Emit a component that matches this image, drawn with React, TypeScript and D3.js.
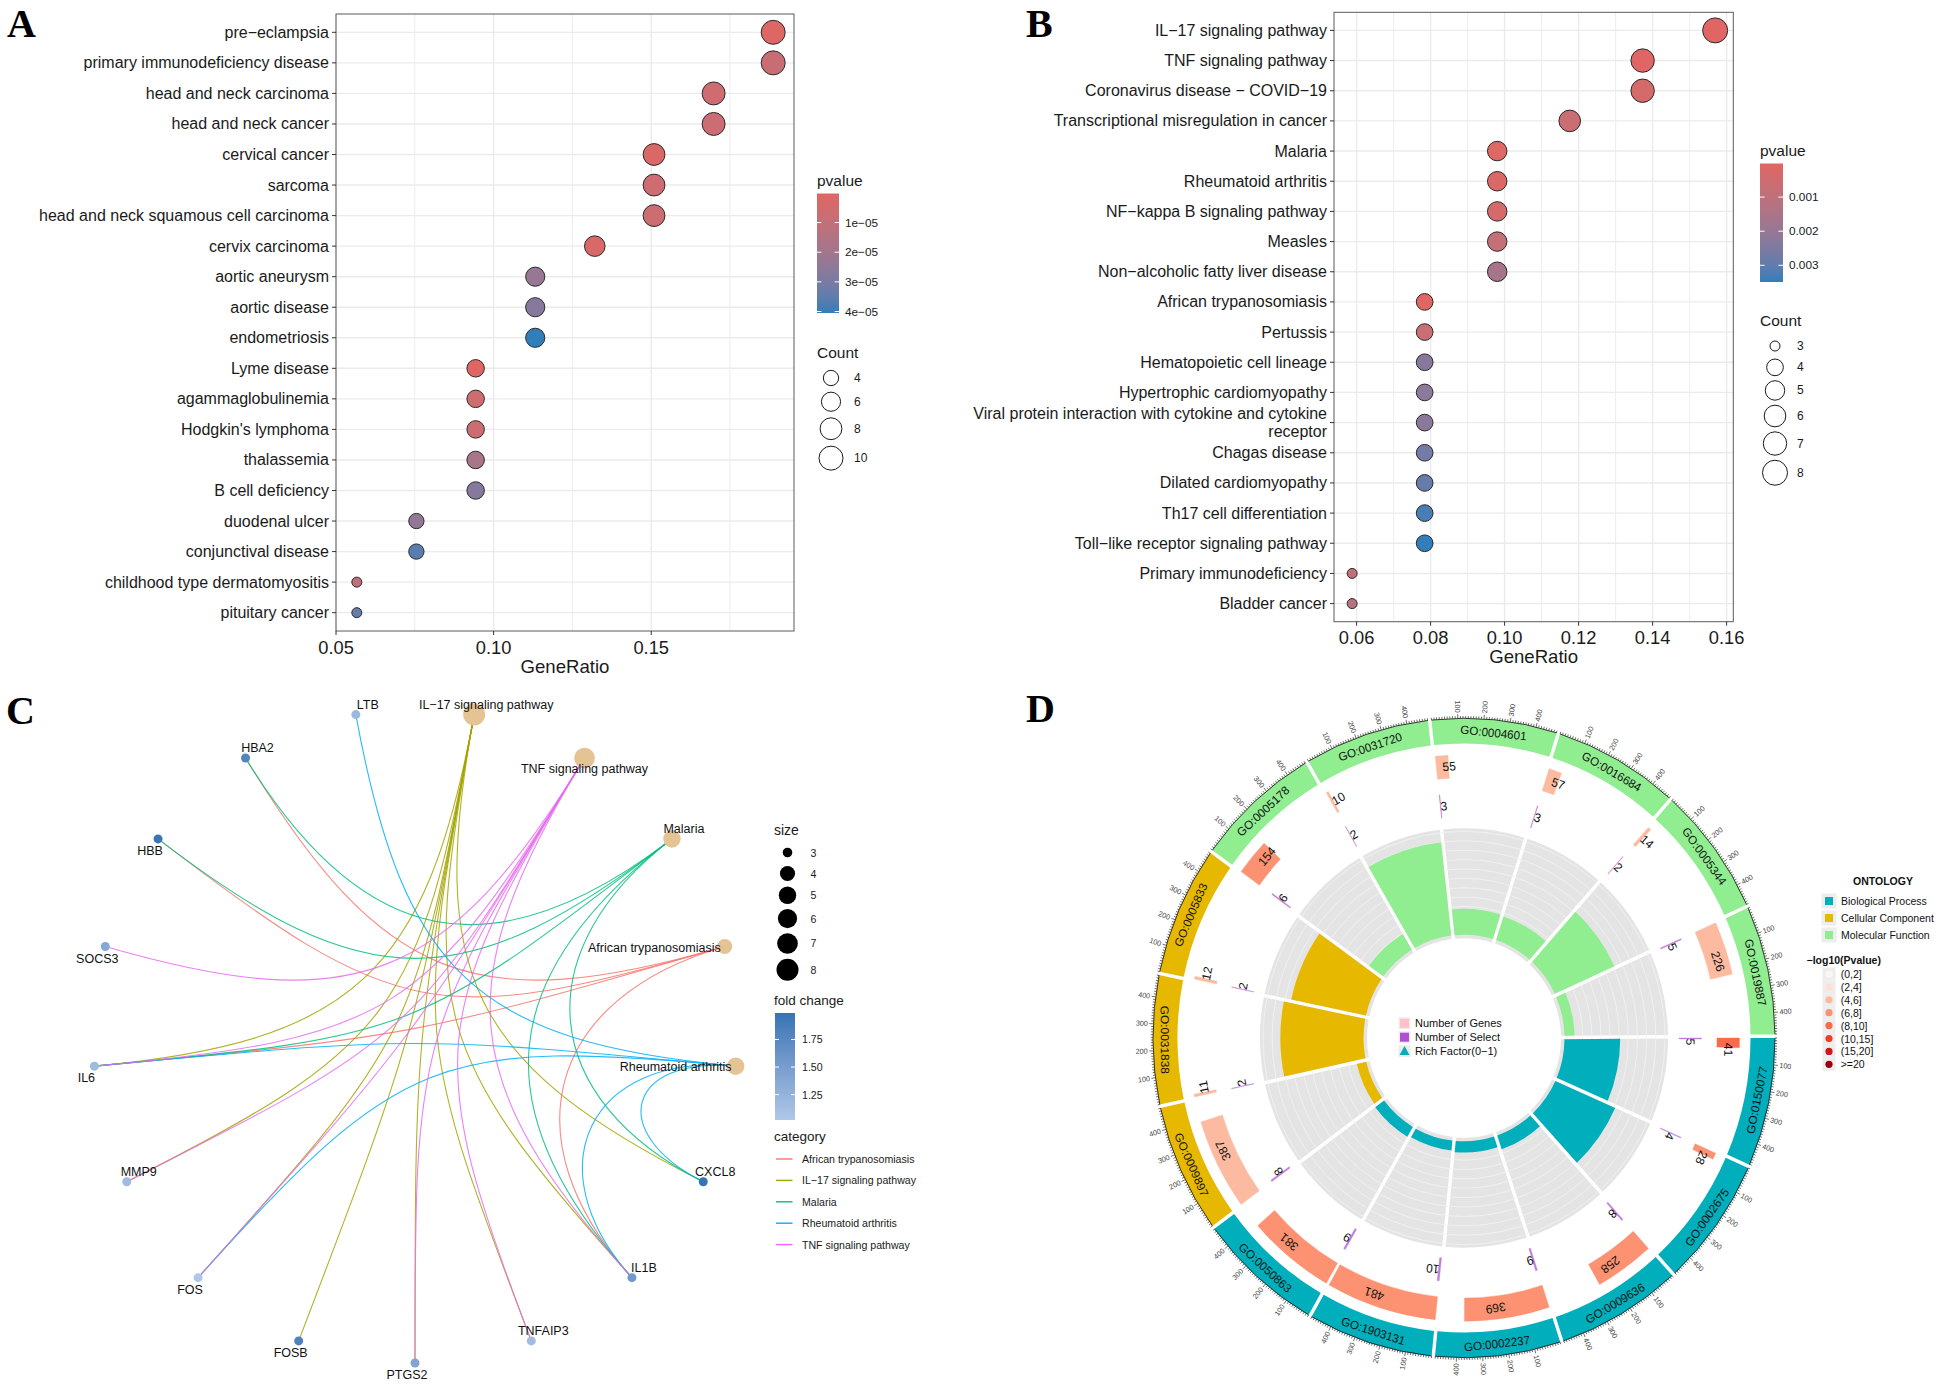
import * as d3 from "d3";

const FONT = "'Liberation Sans', Arial, sans-serif";
const SERIF = "'Liberation Serif', 'Times New Roman', serif";

// ---------- Panel A: disease enrichment dot plot
const doTerms = [
  "pre\u2212eclampsia",
  "primary immunodeficiency disease",
  "head and neck carcinoma",
  "head and neck cancer",
  "cervical cancer",
  "sarcoma",
  "head and neck squamous cell carcinoma",
  "cervix carcinoma",
  "aortic aneurysm",
  "aortic disease",
  "endometriosis",
  "Lyme disease",
  "agammaglobulinemia",
  "Hodgkin's lymphoma",
  "thalassemia",
  "B cell deficiency",
  "duodenal ulcer",
  "conjunctival disease",
  "childhood type dermatomyositis",
  "pituitary cancer",
];
const doRatio = [
  0.1887, 0.1887, 0.1698, 0.1698, 0.1509, 0.1509, 0.1509, 0.1321, 0.1132, 0.1132,
  0.1132, 0.0943, 0.0943, 0.0943, 0.0943, 0.0943, 0.0755, 0.0755, 0.0566, 0.0566,
];
const doCount = [10, 10, 9, 9, 8, 8, 8, 7, 6, 6, 6, 5, 5, 5, 5, 5, 4, 4, 3, 3];
const doPvalue = [
  1.2e-6, 8e-6, 6.5e-6, 7.5e-6, 2.2e-6, 6.5e-6, 7e-6, 2.6e-6, 2.3e-5, 2.7e-5,
  4.05e-5, 2e-7, 6e-6, 7.5e-6, 1.8e-5, 2.7e-5, 2.4e-5, 3.6e-5, 1.1e-5, 3.4e-5,
];
const doXTicks = [0.05, 0.1, 0.15];
const doXMinor = [0.075, 0.125, 0.175];
const doXLabels = ["0.05", "0.10", "0.15"];
const doPTicks = [1e-5, 2e-5, 3e-5, 4e-5];
const doPLabels = ["1e\u221205", "2e\u221205", "3e\u221205", "4e\u221205"];
const doCountKeys = [4, 6, 8, 10];

// ---------- Panel B: KEGG dot plot
const keggTerms = [
  "IL\u221217 signaling pathway",
  "TNF signaling pathway",
  "Coronavirus disease \u2212 COVID\u221219",
  "Transcriptional misregulation in cancer",
  "Malaria",
  "Rheumatoid arthritis",
  "NF\u2212kappa B signaling pathway",
  "Measles",
  "Non\u2212alcoholic fatty liver disease",
  "African trypanosomiasis",
  "Pertussis",
  "Hematopoietic cell lineage",
  "Hypertrophic cardiomyopathy",
  "Viral protein interaction with cytokine and cytokine\nreceptor",
  "Chagas disease",
  "Dilated cardiomyopathy",
  "Th17 cell differentiation",
  "Toll\u2212like receptor signaling pathway",
  "Primary immunodeficiency",
  "Bladder cancer",
];
const keggRatio = [
  0.1569, 0.1373, 0.1373, 0.1176, 0.098, 0.098, 0.098, 0.098, 0.098, 0.0784,
  0.0784, 0.0784, 0.0784, 0.0784, 0.0784, 0.0784, 0.0784, 0.0784, 0.0588, 0.0588,
];
const keggCount = [8, 7, 7, 6, 5, 5, 5, 5, 5, 4, 4, 4, 4, 4, 4, 4, 4, 4, 3, 3];
const keggPvalue = [
  1.5e-5, 5e-5, 3.5e-4, 7e-4, 6e-5, 1.5e-4, 3e-4, 8e-4, 1.6e-3, 2e-5,
  7e-4, 2.3e-3, 2.2e-3, 2.25e-3, 2.7e-3, 2.9e-3, 3.3e-3, 3.49e-3, 9e-4, 1.2e-3,
];
const keggXTicks = [0.06, 0.08, 0.1, 0.12, 0.14, 0.16];
const keggXMinor = [0.07, 0.09, 0.11, 0.13, 0.15];
const keggXLabels = ["0.06", "0.08", "0.10", "0.12", "0.14", "0.16"];
const keggPTicks = [0.001, 0.002, 0.003];
const keggPLabels = ["0.001", "0.002", "0.003"];
const keggCountKeys = [3, 4, 5, 6, 7, 8];

// ---------- Panel C: gene-concept network
const cnetOrder = [
  "PTGS2", "TNFAIP3", "IL1B", "CXCL8",
  "Rheumatoid arthritis", "African trypanosomiasis", "Malaria",
  "TNF signaling pathway", "IL\u221217 signaling pathway",
  "LTB", "HBA2", "HBB", "SOCS3", "IL6", "MMP9", "FOS", "FOSB",
];
const cnetCategories = [
  "African trypanosomiasis",
  "IL\u221217 signaling pathway",
  "Malaria",
  "Rheumatoid arthritis",
  "TNF signaling pathway",
];
const cnetCategorySize = [4, 8, 5, 5, 7];
const cnetCategoryColors = ["#F8766D", "#A3A500", "#00BF7D", "#00B0F6", "#E76BF3"];
const cnetCategoryGenes = [
  ["HBA2", "HBB", "IL6", "IL1B"],
  ["IL6", "MMP9", "FOS", "FOSB", "PTGS2", "TNFAIP3", "IL1B", "CXCL8"],
  ["HBA2", "HBB", "IL6", "IL1B", "CXCL8"],
  ["LTB", "IL6", "FOS", "IL1B", "CXCL8"],
  ["SOCS3", "IL6", "MMP9", "FOS", "PTGS2", "TNFAIP3", "IL1B"],
];
const cnetGenes = ["LTB", "HBA2", "HBB", "SOCS3", "IL6", "MMP9", "FOS", "FOSB", "PTGS2", "TNFAIP3", "IL1B", "CXCL8"];
const cnetFoldChange = [1.2, 1.8, 1.97, 1.38, 1.18, 1.16, 1.02, 1.82, 1.42, 1.15, 1.55, 1.99];
const cnetLabelSide: Record<string, string> = {
  LTB: "ne", HBA2: "ne", HBB: "sw", SOCS3: "sw", IL6: "sw", MMP9: "ne", FOS: "sw",
  FOSB: "sw", PTGS2: "sw", TNFAIP3: "ne", IL1B: "ne", CXCL8: "ne",
  "IL\u221217 signaling pathway": "ne", "TNF signaling pathway": "s", Malaria: "ne",
  "African trypanosomiasis": "w", "Rheumatoid arthritis": "w",
};
const cnetSizeKeys = [3, 4, 5, 6, 7, 8];
const cnetFoldTicks = [1.25, 1.5, 1.75];
const cnetFoldLabels = ["1.25", "1.50", "1.75"];

// ---------- Panel D: GO circle
const goIds = [
  "GO:0150077", "GO:0002675", "GO:0009636", "GO:0002237", "GO:1903131", "GO:0050863",
  "GO:0009897", "GO:0031838", "GO:0005833",
  "GO:0005178", "GO:0031720", "GO:0004601", "GO:0016684", "GO:0005344", "GO:0019887",
];
const goOntology = ["BP", "BP", "BP", "BP", "BP", "BP", "CC", "CC", "CC", "MF", "MF", "MF", "MF", "MF", "MF"];
const goGenes = [41, 28, 258, 369, 481, 381, 387, 11, 12, 154, 10, 55, 57, 14, 226];
const goSelect = [5, 4, 8, 9, 10, 9, 8, 2, 2, 6, 2, 3, 3, 2, 5];
const goRich = [0.122, 0.143, 0.031, 0.024, 0.021, 0.024, 0.021, 0.182, 0.167, 0.039, 0.2, 0.055, 0.053, 0.143, 0.022];
const goLogP = [8.6, 7.3, 7.1, 6.8, 6.9, 6.6, 5.4, 4.6, 4.8, 6.5, 4.9, 4.5, 4.4, 4.7, 4.3];
const goOntologyNames = ["Biological Process", "Cellular Component", "Molecular Function"];
const goOntologyKeys = ["BP", "CC", "MF"];
const goOntologyColors = ["#00AFBB", "#E7B800", "#90EE90"];
const goPBins = ["(0,2]", "(2,4]", "(4,6]", "(6,8]", "(8,10]", "(10,15]", "(15,20]", ">=20"];
const goPBreaks = [2, 4, 6, 8, 10, 15, 20];
const goAxisTicks = [100, 200, 300, 400];

type DotProps = {
  terms: string[];
  ratio: number[];
  count: number[];
  pvalue: number[];
  left: number;
  right: number;
  top: number;
  bottom: number;
  xTicks: number[];
  xMinor: number[];
  xLabels: string[];
  pTicks: number[];
  pLabels: string[];
  countKeys: number[];
  rRange: [number, number];
  tickLabelY: number;
  xTitleY: number;
  legendX: number;
  barW: number;
  pTitleY: number;
  barTop: number;
  barBottom: number;
  countTitleY: number;
  countFirstY: number;
  keyCx: number;
  keyLabelX: number;
  keyPad: number;
  keyMin: number;
  gradId: string;
};

function DotPlot(p: DotProps) {
  const [rmin, rmax] = d3.extent(p.ratio) as [number, number];
  const pad = (rmax - rmin) * 0.05;
  const x = d3.scaleLinear().domain([rmin - pad, rmax + pad]).range([p.left, p.right]);
  const y = d3.scalePoint<string>().domain(p.terms).range([p.top, p.bottom]).padding(0.6);
  const pExt = d3.extent(p.pvalue) as [number, number];
  const color = d3
    .scaleLinear<string>()
    .domain(pExt)
    .range(["#e06663", "#327eba"])
    .interpolate(d3.interpolateLab);
  const cExt = d3.extent(p.count) as [number, number];
  const norm = d3.scaleLinear().domain(cExt).range([0, 1]).clamp(true);
  const rad = (c: number) => p.rRange[0] + (p.rRange[1] - p.rRange[0]) * Math.sqrt(norm(c));
  const yBar = d3.scaleLinear().domain(pExt).range([p.barTop, p.barBottom]);

  const keyH = p.countKeys.map((c) => Math.max(2 * rad(c) + p.keyPad, p.keyMin));
  const keyY: number[] = [];
  p.countKeys.forEach((_, i) => {
    keyY.push(i === 0 ? p.countFirstY : keyY[i - 1] + (keyH[i - 1] + keyH[i]) / 2);
  });

  const stops = d3.range(0, 1.0001, 0.05);

  return (
    <g>
      <defs>
        <linearGradient id={p.gradId} x1="0" y1="0" x2="0" y2="1">
          {stops.map((t) => (
            <stop key={t} offset={t} stopColor={color(pExt[0] + t * (pExt[1] - pExt[0]))} />
          ))}
        </linearGradient>
      </defs>
      <rect x={p.left} y={p.top} width={p.right - p.left} height={p.bottom - p.top} fill="#fff" />
      {p.xMinor.map((v) => (
        <line key={"mn" + v} x1={x(v)} x2={x(v)} y1={p.top} y2={p.bottom} stroke="#EFEFEF" strokeWidth={1.1} />
      ))}
      {p.xTicks.map((v) => (
        <line key={"mj" + v} x1={x(v)} x2={x(v)} y1={p.top} y2={p.bottom} stroke="#EBEBEB" strokeWidth={1.4} />
      ))}
      {p.terms.map((t) => (
        <line key={"h" + t} x1={p.left} x2={p.right} y1={y(t)} y2={y(t)} stroke="#EBEBEB" strokeWidth={1.4} />
      ))}
      {p.terms.map((t, i) => (
        <circle
          key={"pt" + t}
          cx={x(p.ratio[i])}
          cy={y(t)}
          r={rad(p.count[i])}
          fill={color(p.pvalue[i])}
          stroke="#2a2a2a"
          strokeWidth={1}
        />
      ))}
      <rect
        x={p.left}
        y={p.top}
        width={p.right - p.left}
        height={p.bottom - p.top}
        fill="none"
        stroke="#5a5a5a"
        strokeWidth={1}
      />
      {p.terms.map((t) => {
        const lines = t.split("\n");
        const yy = y(t) ?? 0;
        return (
          <g key={"yl" + t}>
            <line x1={p.left - 4} x2={p.left} y1={yy} y2={yy} stroke="#333" strokeWidth={1} />
            {lines.map((ln, j) => (
              <text
                key={j}
                x={p.left - 7}
                y={yy + (j - (lines.length - 1) / 2) * 17.5}
                textAnchor="end"
                dominantBaseline="central"
                fontSize={16}
                fill="#1a1a1a"
              >
                {ln}
              </text>
            ))}
          </g>
        );
      })}
      {p.xTicks.map((v, i) => (
        <g key={"xt" + v}>
          <line x1={x(v)} x2={x(v)} y1={p.bottom} y2={p.bottom + 4} stroke="#333" strokeWidth={1} />
          <text x={x(v)} y={p.tickLabelY} textAnchor="middle" dominantBaseline="central" fontSize={18.3} fill="#1a1a1a">
            {p.xLabels[i]}
          </text>
        </g>
      ))}
      <text
        x={(p.left + p.right) / 2}
        y={p.xTitleY}
        textAnchor="middle"
        dominantBaseline="central"
        fontSize={18.6}
        fill="#1a1a1a"
      >
        GeneRatio
      </text>

      {/* pvalue legend */}
      <text x={p.legendX} y={p.pTitleY} dominantBaseline="central" fontSize={15.5} fill="#1a1a1a">
        pvalue
      </text>
      <rect x={p.legendX} y={p.barTop} width={p.barW} height={p.barBottom - p.barTop} fill={`url(#${p.gradId})`} />
      {p.pTicks.map((v, i) => (
        <g key={"pl" + v}>
          <line x1={p.legendX} x2={p.legendX + p.barW / 5} y1={yBar(v)} y2={yBar(v)} stroke="#fff" strokeWidth={1} />
          <line
            x1={p.legendX + p.barW}
            x2={p.legendX + (p.barW * 4) / 5}
            y1={yBar(v)}
            y2={yBar(v)}
            stroke="#fff"
            strokeWidth={1}
          />
          <text
            x={p.legendX + p.barW + 6}
            y={yBar(v)}
            dominantBaseline="central"
            fontSize={11.8}
            fill="#1a1a1a"
          >
            {p.pLabels[i]}
          </text>
        </g>
      ))}

      {/* Count legend */}
      <text x={p.legendX} y={p.countTitleY} dominantBaseline="central" fontSize={15.5} fill="#1a1a1a">
        Count
      </text>
      {p.countKeys.map((c, i) => (
        <g key={"ck" + c}>
          <circle cx={p.keyCx} cy={keyY[i]} r={rad(c)} fill="none" stroke="#1a1a1a" strokeWidth={1} />
          <text x={p.keyLabelX} y={keyY[i]} dominantBaseline="central" fontSize={12} fill="#1a1a1a">
            {c}
          </text>
        </g>
      ))}
    </g>
  );
}

function CnetPlot() {
  const cx = 415;
  const cy = 1036;
  const rx = 322;
  const ry = 327;
  const n = cnetOrder.length;
  const pos = new Map<string, [number, number]>();
  const angDeg = new Map<string, number>();
  cnetOrder.forEach((name, k) => {
    const a = -Math.PI / 2 + (k * 2 * Math.PI) / n;
    pos.set(name, [cx + rx * Math.cos(a), cy - ry * Math.sin(a)]);
    angDeg.set(name, (a * 180) / Math.PI);
  });

  const sizeNorm = d3.scaleLinear().domain([3, 8]).range([0, 1]).clamp(true);
  const nodeR = (s: number) => 4.8 + 6.2 * Math.sqrt(sizeNorm(s));
  const foldExt = d3.extent(cnetFoldChange) as [number, number];
  const foldColor = d3
    .scaleLinear<string>()
    .domain(foldExt)
    .range(["#AFC8E8", "#3674B5"])
    .interpolate(d3.interpolateLab);

  // edges: cubic curves whose control points are pulled towards the circle centre,
  // more strongly for nodes that lie further apart on the circle
  const edges: { d: string; color: string; key: string }[] = [];
  cnetCategories.forEach((cat, ci) => {
    const [x0, y0] = pos.get(cat)!;
    cnetCategoryGenes[ci].forEach((g) => {
      const [x1, y1] = pos.get(g)!;
      let dA = Math.abs(angDeg.get(cat)! - angDeg.get(g)!) % 360;
      if (dA > 180) dA = 360 - dA;
      const s = Math.min(1, 0.22 + dA / 180);
      const q = 1 - s;
      const path = d3.path();
      path.moveTo(x0, y0);
      path.bezierCurveTo(
        cx + q * (x0 - cx),
        cy + q * (y0 - cy),
        cx + q * (x1 - cx),
        cy + q * (y1 - cy),
        x1,
        y1
      );
      edges.push({ d: path.toString(), color: cnetCategoryColors[ci], key: cat + g });
    });
  });

  const labelOf = (name: string) => {
    const [x, y] = pos.get(name)!;
    const side = cnetLabelSide[name];
    if (side === "ne") return { x: x + 12, y: y - 10, anchor: "middle" };
    if (side === "sw") return { x: x - 8, y: y + 12, anchor: "middle" };
    if (side === "s") return { x: x, y: y + 11.5, anchor: "middle" };
    return { x: x - 4, y: y + 1, anchor: "end" };
  };

  // legends
  const lx = 774;
  const sizeKeyH = cnetSizeKeys.map((s) => Math.max(2 * nodeR(s) + 5, 21));
  const sizeKeyY: number[] = [];
  cnetSizeKeys.forEach((_, i) => {
    sizeKeyY.push(i === 0 ? 852.5 : sizeKeyY[i - 1] + (sizeKeyH[i - 1] + sizeKeyH[i]) / 2);
  });
  const barTop = 1013;
  const barBottom = 1120;
  const yFold = d3.scaleLinear().domain(foldExt).range([barBottom, barTop]);
  const stops = d3.range(0, 1.0001, 0.05);

  return (
    <g>
      <defs>
        <linearGradient id="foldGrad" x1="0" y1="1" x2="0" y2="0">
          {stops.map((t) => (
            <stop key={t} offset={t} stopColor={foldColor(foldExt[0] + t * (foldExt[1] - foldExt[0]))} />
          ))}
        </linearGradient>
      </defs>
      {edges.map((e) => (
        <path key={e.key} d={e.d} fill="none" stroke={e.color} strokeOpacity={0.85} strokeWidth={1.1} />
      ))}
      {cnetCategories.map((cat, i) => {
        const [x, y] = pos.get(cat)!;
        return <circle key={cat} cx={x} cy={y} r={nodeR(cnetCategorySize[i])} fill="#E5C494" />;
      })}
      {cnetGenes.map((g, i) => {
        const [x, y] = pos.get(g)!;
        return <circle key={g} cx={x} cy={y} r={4.5} fill={foldColor(cnetFoldChange[i])} />;
      })}
      {cnetOrder.map((name) => {
        const l = labelOf(name);
        return (
          <text
            key={"lab" + name}
            x={l.x}
            y={l.y}
            textAnchor={l.anchor as any}
            dominantBaseline="central"
            fontSize={12.5}
            fill="#111"
          >
            {name}
          </text>
        );
      })}

      <text x={lx} y={830} dominantBaseline="central" fontSize={14} fill="#1a1a1a">
        size
      </text>
      {cnetSizeKeys.map((s, i) => (
        <g key={"sk" + s}>
          <circle cx={787.5} cy={sizeKeyY[i]} r={nodeR(s)} fill="#000" />
          <text x={810.5} y={sizeKeyY[i]} dominantBaseline="central" fontSize={10.6} fill="#1a1a1a">
            {s}
          </text>
        </g>
      ))}
      <text x={lx} y={1000} dominantBaseline="central" fontSize={13.5} fill="#1a1a1a">
        fold change
      </text>
      <rect x={775} y={barTop} width={20} height={barBottom - barTop} fill="url(#foldGrad)" />
      {cnetFoldTicks.map((v, i) => (
        <g key={"ft" + v}>
          <line x1={775} x2={779} y1={yFold(v)} y2={yFold(v)} stroke="#fff" strokeWidth={1} />
          <line x1={791} x2={795} y1={yFold(v)} y2={yFold(v)} stroke="#fff" strokeWidth={1} />
          <text x={802} y={yFold(v)} dominantBaseline="central" fontSize={10.6} fill="#1a1a1a">
            {cnetFoldLabels[i]}
          </text>
        </g>
      ))}
      <text x={lx} y={1136} dominantBaseline="central" fontSize={13.5} fill="#1a1a1a">
        category
      </text>
      {cnetCategories.map((cat, i) => {
        const yy = 1159 + i * 21.4;
        return (
          <g key={"cl" + cat}>
            <line x1={776} x2={792.5} y1={yy} y2={yy} stroke={cnetCategoryColors[i]} strokeWidth={1.4} />
            <text x={802} y={yy} dominantBaseline="central" fontSize={10.6} fill="#1a1a1a">
              {cat}
            </text>
          </g>
        );
      })}
    </g>
  );
}

function GoCircle() {
  const cx = 1464;
  const cy = 1038;
  const sy = 1.028;
  const n = goIds.length;
  const step = 360 / n;
  const gapDeg = 0.67;
  const xmax = d3.max(goGenes) ?? 1;
  const unit = d3.scaleLinear().domain([0, xmax]).range([0, step - gapDeg]);
  const ang = (k: number, v: number) => k * step + unit(v);
  const toArc = (deg: number) => ((deg + 90) * Math.PI) / 180;
  const polar = (r: number, deg: number): [number, number] => {
    const t = (deg * Math.PI) / 180;
    return [r * Math.cos(t), r * Math.sin(t)];
  };

  const R_OUT = 311;
  const R_BAND = 286.5;
  const R_GENE0 = 253;
  const R_GENE1 = 275.5;
  const R_SEL0 = 215;
  const R_SEL1 = 237.5;
  const R_BG0 = 97;
  const R_BG1 = 204;
  const rich = d3.scaleLinear().domain([0, 0.22]).range([100.5, 201]);
  const gridVals = d3.range(0.02, 0.2201, 0.02);

  const ontColor = d3.scaleOrdinal<string, string>().domain(goOntologyKeys).range(goOntologyColors);
  const pColor = d3.scaleThreshold<number, string>().domain(goPBreaks).range(d3.schemeReds[8] as string[]);

  const arc = d3.arc<any>();
  const padded = (k: number, r0: number, r1: number) =>
    arc({
      innerRadius: r0,
      outerRadius: r1,
      startAngle: toArc(k * step - gapDeg / 2),
      endAngle: toArc(k * step + step - gapDeg / 2),
      padAngle: 3.4 / Math.hypot(r0, r1),
    }) ?? "";
  const plain = (r0: number, r1: number, a0: number, a1: number) =>
    arc({ innerRadius: r0, outerRadius: r1, startAngle: toArc(a0), endAngle: toArc(a1) }) ?? "";

  const minorVals = d3.range(0, xmax, 10);

  return (
    <g transform={`translate(${cx},${cy}) scale(1,${sy})`}>
      {goIds.map((id, k) => (
        <g key={id}>
          <path d={padded(k, R_BAND, R_OUT)} fill={ontColor(goOntology[k])} />
          <path d={padded(k, R_BG0, R_BG1)} fill="#E4E4E4" />
        </g>
      ))}
      {gridVals.map((v) => (
        <circle key={"g" + v} r={rich(v)} fill="none" stroke="#F3F3F3" strokeWidth={0.8} />
      ))}
      {goIds.map((id, k) => {
        const mid = ang(k, xmax / 2);
        const [tx, ty] = polar((R_BAND + R_OUT) / 2, mid);
        const flip = mid > 0 && mid < 180;
        const rot = flip ? mid - 90 : mid + 90;
        const axis = d3.path();
        const a0 = (ang(k, 0) * Math.PI) / 180;
        const a1 = (ang(k, xmax) * Math.PI) / 180;
        axis.moveTo(R_OUT * Math.cos(a0), R_OUT * Math.sin(a0));
        axis.arc(0, 0, R_OUT, a0, a1);

        const gAng = ang(k, goGenes[k] / 2);
        const [gx, gy] = polar((R_GENE0 + R_GENE1) / 2, gAng);
        const sAng = ang(k, goSelect[k] / 2);
        const [sx, sy2] = polar((R_SEL0 + R_SEL1) / 2, sAng);
        return (
          <g key={"d" + id}>
            <path d={padded(k, rich(0), rich(goRich[k]))} fill={ontColor(goOntology[k])} />
            <path
              d={plain(R_GENE0, R_GENE1, ang(k, 0), ang(k, goGenes[k]))}
              fill={pColor(goLogP[k])}
              stroke={pColor(goLogP[k])}
              strokeWidth={0.4}
            />
            <text
              x={gx}
              y={gy}
              transform={`rotate(${gAng + 90},${gx},${gy})`}
              textAnchor="start"
              dominantBaseline="central"
              fontSize={12}
              fill="#111"
            >
              {goGenes[k]}
            </text>
            <path
              d={plain(R_SEL0, R_SEL1, ang(k, 0), ang(k, goSelect[k]))}
              fill="#B050D0"
              stroke="#B050D0"
              strokeWidth={0.4}
              opacity={0.75}
            />
            <text
              x={sx}
              y={sy2}
              transform={`rotate(${sAng + 90},${sx},${sy2})`}
              textAnchor="start"
              dominantBaseline="central"
              fontSize={12}
              fill="#111"
            >
              {goSelect[k]}
            </text>
            <text
              x={tx}
              y={ty}
              transform={`rotate(${rot},${tx},${ty})`}
              textAnchor="middle"
              dominantBaseline="central"
              fontSize={11.6}
              fill="#111"
            >
              {id}
            </text>
            <path d={axis.toString()} fill="none" stroke="#111" strokeWidth={0.8} />
            {minorVals.map((v) => {
              const major = v > 0 && v % 100 === 0;
              const d = ang(k, v);
              const [x1, y1] = polar(R_OUT, d);
              const [x2, y2] = polar(R_OUT + (major ? 4 : 2.2), d);
              return <line key={v} x1={x1} y1={y1} x2={x2} y2={y2} stroke="#111" strokeWidth={0.6} />;
            })}
            {goAxisTicks.map((v) => {
              const d = ang(k, v);
              const [lx, ly] = polar(R_OUT + 5.5, d);
              const nd = ((d % 360) + 360) % 360;
              const fl = nd > 90 && nd < 270;
              return (
                <text
                  key={"tl" + v}
                  x={lx}
                  y={ly}
                  transform={`rotate(${fl ? d + 180 : d},${lx},${ly})`}
                  textAnchor={fl ? "end" : "start"}
                  dominantBaseline="central"
                  fontSize={7.2}
                  fill="#444"
                >
                  {v}
                </text>
              );
            })}
          </g>
        );
      })}
    </g>
  );
}

function GoLegends() {
  const pColors = d3.schemeReds[8] as string[];
  return (
    <g>
      {["Number of Genes", "Number of Select", "Rich Factor(0\u22121)"].map((t, i) => {
        const yy = 1023.3 + i * 13.9;
        return (
          <g key={t}>
            <rect x={1398.5} y={yy - 6} width={12} height={12} fill="#EDEDED" />
            {i === 0 && <rect x={1400} y={yy - 4.5} width={9} height={9} fill="#FFC0CB" />}
            {i === 1 && <rect x={1400} y={yy - 4.5} width={9} height={9} fill="#B050D0" />}
            {i === 2 && <path d={`M1404.5,${yy - 5} L1409.5,${yy + 4} L1399.5,${yy + 4} Z`} fill="#00AFBB" />}
            <text x={1415} y={yy} dominantBaseline="central" fontSize={11} fill="#111">
              {t}
            </text>
          </g>
        );
      })}

      <text x={1883} y={881} textAnchor="middle" dominantBaseline="central" fontSize={10.5} fontWeight="bold" fill="#111">
        ONTOLOGY
      </text>
      {goOntologyNames.map((nm, i) => {
        const yy = 901 + i * 17;
        return (
          <g key={nm}>
            <rect x={1821.5} y={yy - 7.5} width={15} height={15} fill="#EDEDED" />
            <rect x={1825} y={yy - 4} width={8} height={8} fill={goOntologyColors[i]} />
            <text x={1841} y={yy} dominantBaseline="central" fontSize={10.5} fill="#111">
              {nm}
            </text>
          </g>
        );
      })}
      <text x={1806.5} y={960} dominantBaseline="central" fontSize={10.5} fontWeight="bold" fill="#111">
        {"\u2212log10(Pvalue)"}
      </text>
      {goPBins.map((b, i) => {
        const yy = 974 + i * 12.9;
        return (
          <g key={b}>
            <rect x={1822.5} y={yy - 6.45} width={13} height={12.9} fill="#EDEDED" />
            <circle cx={1829} cy={yy} r={3.6} fill={pColors[i]} />
            <text x={1840.7} y={yy} dominantBaseline="central" fontSize={10.5} fill="#111">
              {b}
            </text>
          </g>
        );
      })}
    </g>
  );
}

export default function App() {
  return (
    <svg
      width={1955}
      height={1386}
      viewBox="0 0 1955 1386"
      style={{ position: "absolute", left: 0, top: 0, display: "block" }}
      fontFamily={FONT}
    >
      <rect width={1955} height={1386} fill="#fff" />
      <DotPlot
        terms={doTerms}
        ratio={doRatio}
        count={doCount}
        pvalue={doPvalue}
        left={336}
        right={794}
        top={14}
        bottom={631}
        xTicks={doXTicks}
        xMinor={doXMinor}
        xLabels={doXLabels}
        pTicks={doPTicks}
        pLabels={doPLabels}
        countKeys={doCountKeys}
        rRange={[5, 12]}
        tickLabelY={647}
        xTitleY={666}
        legendX={817}
        barW={22}
        pTitleY={180}
        barTop={193.5}
        barBottom={313}
        countTitleY={352}
        countFirstY={378}
        keyCx={831}
        keyLabelX={854}
        keyPad={6.5}
        keyMin={0}
        gradId="gradA"
      />
      <DotPlot
        terms={keggTerms}
        ratio={keggRatio}
        count={keggCount}
        pvalue={keggPvalue}
        left={1334}
        right={1733.3}
        top={12.3}
        bottom={621.7}
        xTicks={keggXTicks}
        xMinor={keggXMinor}
        xLabels={keggXLabels}
        pTicks={keggPTicks}
        pLabels={keggPLabels}
        countKeys={keggCountKeys}
        rRange={[5, 12.5]}
        tickLabelY={637}
        xTitleY={656}
        legendX={1760}
        barW={23}
        pTitleY={150.7}
        barTop={163.5}
        barBottom={282}
        countTitleY={320}
        countFirstY={346}
        keyCx={1775}
        keyLabelX={1797}
        keyPad={5}
        keyMin={21}
        gradId="gradB"
      />
      <CnetPlot />
      <GoCircle />
      <GoLegends />

      <g fontFamily={SERIF} fontWeight="bold" fontSize={40} fill="#000">
        <text x={7} y={37}>A</text>
        <text x={1026} y={37}>B</text>
        <text x={6} y={724}>C</text>
        <text x={1026} y={722}>D</text>
      </g>
    </svg>
  );
}
